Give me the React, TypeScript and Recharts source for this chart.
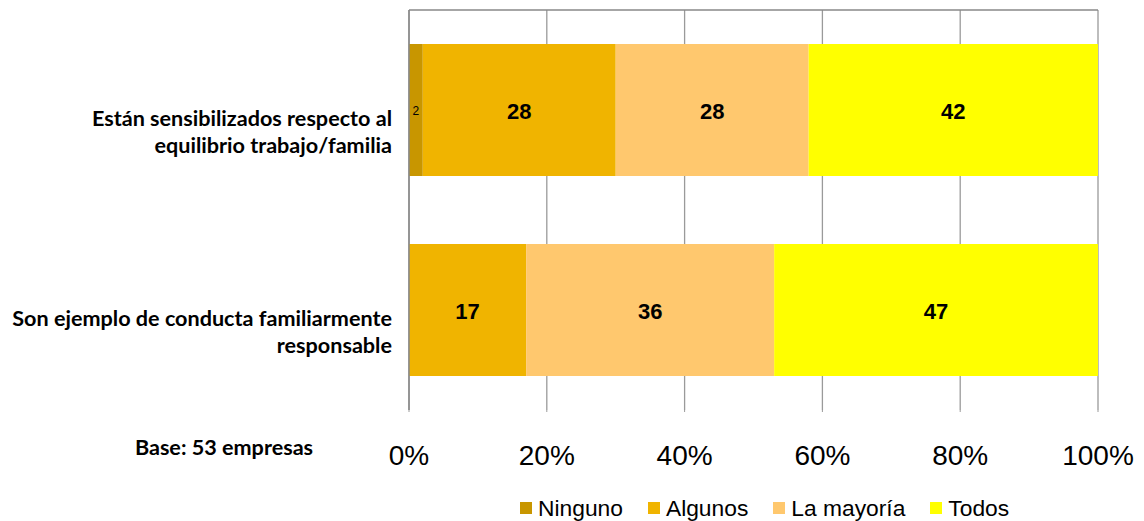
import React from 'react';
import { BarChart, Bar, XAxis, YAxis, CartesianGrid, LabelList, Legend } from 'recharts';

// Survey rows (each row sums to 100%)
const categories = [
  'Están sensibilizados respecto al equilibrio trabajo/familia',
  'Son ejemplo de conducta familiarmente responsable',
];
const categoryLines = [
  ['Están sensibilizados respecto al', 'equilibrio trabajo/familia'],
  ['Son ejemplo de conducta familiarmente', 'responsable'],
];
const ninguno = [2, 0];
const algunos = [28, 17];
const laMayoria = [28, 36];
const todos = [42, 47];

const percentTicks = [0, 20, 40, 60, 80, 100];
const seriesKeys = ['ninguno', 'algunos', 'mayoria', 'todos'];
const seriesNames = ['Ninguno', 'Algunos', 'La mayoría', 'Todos'];
const seriesColors = ['#C89600', '#F0B400', '#FFC86E', '#FFFF00'];
const baseNote = 'Base: 53 empresas';

const data = categories.map((name, i) => ({
  name,
  ninguno: ninguno[i],
  algunos: algunos[i],
  mayoria: laMayoria[i],
  todos: todos[i],
}));

const LABEL_FONT = '"Lato", "Open Sans", sans-serif';
const SANS = '"Liberation Sans", Arial, sans-serif';

const CategoryTick = (props: any) => {
  const { x, y, payload, index } = props;
  const i = typeof index === 'number' ? index : categories.indexOf(payload.value);
  const lines = categoryLines[i] ?? [payload.value];
  return (
    <g>
      {lines.map((line, k) => (
        <text
          key={k}
          x={x}
          y={y + 16 + k * 27}
          textAnchor="end"
          fontFamily={LABEL_FONT}
          fontWeight={700}
          fontSize={21.6}
          fill="#000"
        >
          {line}
        </text>
      ))}
    </g>
  );
};

const makeValueLabel = (size: number, weight: number) => (props: any) => {
  const { x, y, width, height, value } = props;
  if (!value) return null;
  return (
    <text
      x={x + width / 2}
      y={y + height / 2 + 1}
      textAnchor="middle"
      dominantBaseline="central"
      fontFamily={SANS}
      fontWeight={weight}
      fontSize={size}
      fill="#000"
    >
      {value}
    </text>
  );
};

const LegendContent = () => (
  <div
    style={{
      display: 'flex',
      alignItems: 'center',
      height: 26,
      paddingLeft: 520,
      fontFamily: SANS,
      fontSize: 22.8,
      color: '#000',
    }}
  >
    {seriesNames.map((n, i) => (
      <div key={n} style={{ display: 'flex', alignItems: 'center', marginRight: 25 }}>
        <span style={{ width: 12, height: 12, background: seriesColors[i], marginRight: 6, display: 'inline-block' }} />
        <span style={{ lineHeight: '26px' }}>{n}</span>
      </div>
    ))}
  </div>
);

export default function App() {
  return (
    <div style={{ position: 'absolute', left: 0, top: 0, width: 1144, height: 521, background: '#fff' }}>
      <BarChart
        width={1144}
        height={521}
        data={data}
        layout="vertical"
        margin={{ top: 9, right: 46, bottom: 0, left: 0 }}
        barCategoryGap="17%"
      >
        <CartesianGrid horizontal={false} vertical stroke="#9a9a9a" strokeWidth={1.3} />
        <XAxis
          type="number"
          domain={[0, 100]}
          ticks={percentTicks}
          tickFormatter={(v) => `${v}%`}
          axisLine={false}
          tickLine={{ stroke: '#9a9a9a' }}
          tickSize={2}
          tickMargin={33}
          height={85}
          tick={{ fontSize: 28, fill: '#000', fontFamily: SANS }}
          interval={0}
        />
        <XAxis
          xAxisId="top"
          orientation="top"
          type="number"
          domain={[0, 100]}
          height={1}
          tick={false}
          tickLine={false}
          axisLine={{ stroke: '#888', strokeWidth: 1.3 }}
        />
        <YAxis
          type="category"
          dataKey="name"
          width={409}
          tickLine={false}
          tickSize={0}
          tickMargin={17}
          axisLine={{ stroke: '#888', strokeWidth: 1.5 }}
          tick={<CategoryTick />}
          interval={0}
        />
        <Legend verticalAlign="bottom" height={26} content={<LegendContent />} />
        {seriesKeys.map((k, i) => (
          <Bar key={k} dataKey={k} name={seriesNames[i]} stackId="s" fill={seriesColors[i]} isAnimationActive={false}>
            <LabelList
              dataKey={k}
              content={i === 0 ? makeValueLabel(12, 400) : makeValueLabel(22, 700)}
            />
          </Bar>
        ))}
      </BarChart>
      <div
        style={{
          position: 'absolute',
          left: 0,
          width: 448,
          top: 434,
          textAlign: 'center',
          fontFamily: LABEL_FONT,
          fontWeight: 700,
          fontSize: 21.6,
          lineHeight: '26px',
          color: '#000',
        }}
      >
        {baseNote}
      </div>
    </div>
  );
}
